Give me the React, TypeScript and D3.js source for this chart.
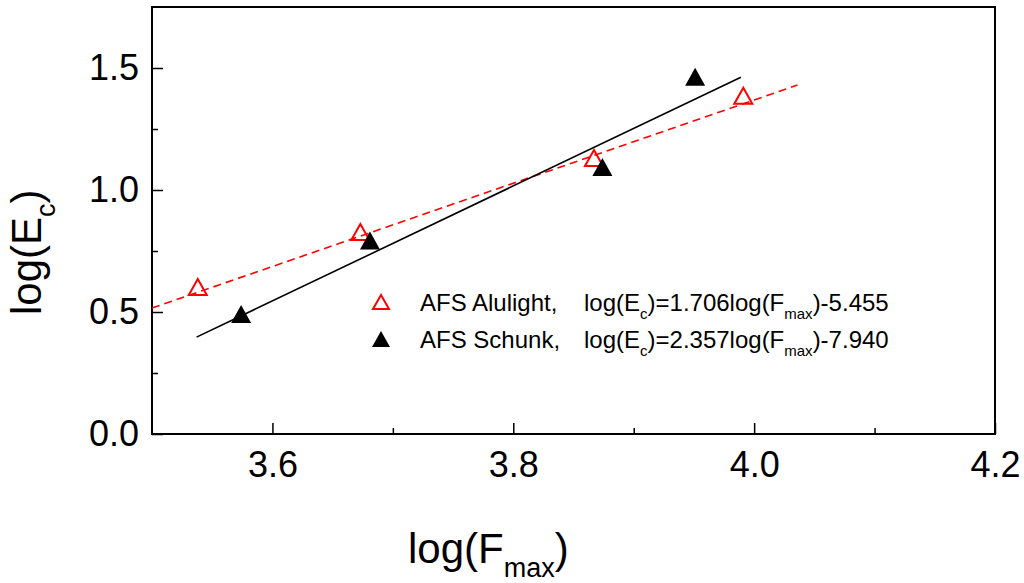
import React, { useEffect, useRef } from 'react';
import * as d3 from 'd3';

const alulightX = [3.538, 3.673, 3.867, 3.991];
const alulightY = [0.602, 0.828, 1.131, 1.386];
const schunkX = [3.574, 3.681, 3.874, 3.951];
const schunkY = [0.492, 0.793, 1.094, 1.464];

// fitted lines (end points)
const alulightFitX = [3.5, 4.036];
const alulightFitY = [0.516, 1.430];
const schunkFitX = [3.537, 3.989];
const schunkFitY = [0.397, 1.462];

const xMajor = [3.6, 3.8, 4.0, 4.2];
const xMinor = [3.7, 3.9, 4.1];
const yMajor = [0.0, 0.5, 1.0, 1.5];
const yMinor = [0.25, 0.75, 1.25];

const legendNames = ['AFS Alulight,', 'AFS Schunk,'];
const legendSlopes = ['1.706', '2.357'];
const legendIntercepts = ['-5.455', '-7.940'];

const FONT = 'Liberation Sans, Arial, sans-serif';

const App: React.FC = () => {
  const svgRef = useRef<SVGSVGElement>(null);

  useEffect(() => {
    if (!svgRef.current) return;
    const width = 1024;
    const height = 583;
    const left = 152;
    const right = 995;
    const top = 7;
    const bottom = 434;

    const svg = d3.select(svgRef.current);
    svg.selectAll('*').remove();
    svg.attr('width', width).attr('height', height);

    const x = d3.scaleLinear().domain([3.5, 4.2]).range([left, right]);
    const y = d3.scaleLinear().domain([0, 1.75]).range([bottom, top]);

    // ticks
    const bx = svg.append('g').attr('transform', `translate(0,${bottom})`);
    bx.call(d3.axisBottom(x).tickValues(xMajor).tickSize(-11).tickFormat(d3.format('.1f')))
      .call(g => g.select('.domain').remove())
      .call(g => g.selectAll('line').attr('stroke-width', 1.5))
      .call(g => g.selectAll('text').attr('font-family', FONT).attr('font-size', 36)
        .attr('fill', '#000').attr('y', 17));
    bx.append('g').call(d3.axisBottom(x).tickValues(xMinor).tickSize(-6).tickFormat(() => ''))
      .call(g => g.select('.domain').remove())
      .call(g => g.selectAll('line').attr('stroke-width', 1.5));

    const ly = svg.append('g').attr('transform', `translate(${left},0)`);
    ly.call(d3.axisLeft(y).tickValues(yMajor).tickSize(-11).tickFormat(d3.format('.1f')))
      .call(g => g.select('.domain').remove())
      .call(g => g.selectAll('line').attr('stroke-width', 1.5))
      .call(g => g.selectAll('text').attr('font-family', FONT).attr('font-size', 36)
        .attr('fill', '#000').attr('x', -13).attr('dy', '0.33em'));
    ly.append('g').call(d3.axisLeft(y).tickValues(yMinor).tickSize(-6).tickFormat(() => ''))
      .call(g => g.select('.domain').remove())
      .call(g => g.selectAll('line').attr('stroke-width', 1.5));

    // frame
    svg.append('rect')
      .attr('x', left).attr('y', top)
      .attr('width', right - left).attr('height', bottom - top)
      .attr('fill', 'none').attr('stroke', '#000').attr('stroke-width', 2);

    // fit lines
    const line = d3.line<[number, number]>().x(d => x(d[0])).y(d => y(d[1]));
    svg.append('path')
      .datum(alulightFitX.map((v, i) => [v, alulightFitY[i]] as [number, number]))
      .attr('d', line).attr('fill', 'none').attr('stroke', '#ff0000')
      .attr('stroke-width', 1.6).attr('stroke-dasharray', '8,5');
    svg.append('path')
      .datum(schunkFitX.map((v, i) => [v, schunkFitY[i]] as [number, number]))
      .attr('d', line).attr('fill', 'none').attr('stroke', '#000')
      .attr('stroke-width', 1.6);

    // triangle centered on its bounding box
    const tri = (cx: number, cy: number, w: number, h: number) =>
      `M${cx},${cy - h / 2}L${cx + w / 2},${cy + h / 2}L${cx - w / 2},${cy + h / 2}Z`;

    svg.append('g').selectAll('path')
      .data(alulightX.map((v, i) => [v, alulightY[i]]))
      .enter().append('path')
      .attr('d', d => tri(x(d[0]), y(d[1]), 18, 16))
      .attr('fill', 'none').attr('stroke', '#ff0000').attr('stroke-width', 2);

    svg.append('g').selectAll('path')
      .data(schunkX.map((v, i) => [v, schunkY[i]]))
      .enter().append('path')
      .attr('d', d => tri(x(d[0]), y(d[1]), 20, 18))
      .attr('fill', '#000');

    // legend
    const rowGap = 37;
    const legend = svg.append('g');
    legend.append('path').attr('d', tri(381, 302, 16, 14))
      .attr('fill', 'none').attr('stroke', '#ff0000').attr('stroke-width', 2);
    legend.append('path').attr('d', tri(381, 302 + rowGap, 18, 16)).attr('fill', '#000');

    legendNames.forEach((name, i) => {
      const base = 311 + i * rowGap;
      legend.append('text').attr('x', 420).attr('y', base)
        .attr('font-family', FONT).attr('font-size', 24).text(name);
      const t = legend.append('text').attr('x', 584).attr('y', base)
        .attr('font-family', FONT).attr('font-size', 24);
      t.append('tspan').text('log(E');
      t.append('tspan').attr('font-size', 15).attr('dy', 8).text('c');
      t.append('tspan').attr('dy', -8).text(`)=${legendSlopes[i]}log(F`);
      t.append('tspan').attr('font-size', 15).attr('dy', 8).text('max');
      t.append('tspan').attr('dy', -8).text(`)${legendIntercepts[i]}`);
    });

    // axis titles
    const xt = svg.append('text').attr('x', 408).attr('y', 563)
      .attr('font-family', FONT).attr('font-size', 42);
    xt.append('tspan').text('log(F');
    xt.append('tspan').attr('font-size', 27).attr('dy', 14).text('max');
    xt.append('tspan').attr('dy', -14).text(')');

    const yt = svg.append('text')
      .attr('transform', 'translate(41,315) rotate(-90)')
      .attr('font-family', FONT).attr('font-size', 42);
    yt.append('tspan').text('log(E');
    yt.append('tspan').attr('font-size', 27).attr('dy', 14).text('c');
    yt.append('tspan').attr('dy', -14).text(')');
  }, []);

  return (
    <svg
      ref={svgRef}
      style={{ position: 'absolute', left: 0, top: 0, display: 'block', background: '#fff' }}
    />
  );
};

export default App;
